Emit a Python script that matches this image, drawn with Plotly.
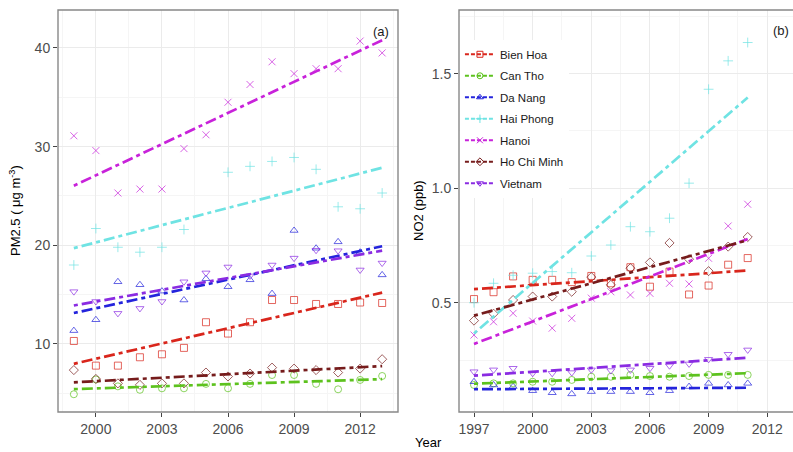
import numpy as np
import plotly.graph_objects as go

# ---------------- data ----------------
cities = ["Bien Hoa", "Can Tho", "Da Nang", "Hai Phong", "Hanoi", "Ho Chi Minh", "Vietnam"]

years_pm25 = [1999, 2000, 2001, 2002, 2003, 2004, 2005, 2006, 2007, 2008, 2009, 2010, 2011, 2012, 2013]
pm25_bien_hoa = [10.3, 7.8, 7.8, 8.65, 8.95, 9.6, 12.2, 11.05, 12.2, 14.45, 14.45, 14.05, 14.05, 14.2, 14.15]
pm25_can_tho = [4.9, 6.4, 5.7, 5.35, 5.5, 5.5, 5.95, 5.5, 5.95, 6.85, 6.85, 5.95, 5.4, 6.35, 6.75]
pm25_da_nang = [11.35, 12.45, 16.3, 16.0, 15.35, 14.45, 16.6, 15.8, 16.5, 15.1, 21.5, 19.7, 20.35, 19.3, 17.0]
pm25_hai_phong = [18.0, 21.7, 19.8, 19.3, 19.8, 21.6, None, 27.4, 28.0, 28.5, 28.9, 27.7, 23.9, 23.7, 25.3]
pm25_hanoi = [31.1, 29.6, 25.3, 25.7, 25.7, 29.8, 31.2, 34.5, 36.3, 38.6, 37.4, 37.9, 37.9, 40.7, 39.5]
pm25_ho_chi_minh = [7.35, 6.45, 6.0, 5.85, 6.0, 6.0, 7.1, 6.7, 7.0, 7.6, 7.5, 7.35, 7.1, 7.5, 8.45]
pm25_vietnam = [15.3, 14.3, 13.1, 13.6, 14.3, 16.3, 17.2, 17.8, 16.9, 18.0, 18.7, 19.5, 19.45, 17.5, 18.2]

years_no2 = [1997, 1998, 1999, 2000, 2001, 2002, 2003, 2004, 2005, 2006, 2007, 2008, 2009, 2010, 2011]
no2_bien_hoa = [0.516, 0.546, 0.615, 0.600, 0.600, 0.590, 0.617, 0.585, 0.655, 0.570, 0.636, 0.536, 0.575, 0.666, 0.695]
no2_can_tho = [0.141, 0.148, 0.148, 0.155, 0.155, 0.163, 0.177, 0.177, 0.185, 0.180, 0.177, 0.180, 0.185, 0.185, 0.185]
no2_da_nang = [0.155, 0.141, 0.134, 0.116, 0.107, 0.102, 0.112, 0.112, 0.112, 0.107, 0.116, 0.134, 0.148, 0.141, 0.148]
no2_hai_phong = [0.50, 0.585, 0.62, 0.629, 0.636, 0.631, 0.704, 0.752, 0.832, 0.810, 0.869, 1.022, 1.432, 1.556, 1.636]
no2_hanoi = [0.359, 0.417, 0.454, 0.420, 0.389, 0.432, 0.520, 0.548, 0.534, 0.541, 0.585, 0.582, 0.694, 0.835, 0.930]
no2_ho_chi_minh = [0.422, 0.452, 0.512, 0.527, 0.527, 0.548, 0.612, 0.578, 0.651, 0.676, 0.761, 0.690, 0.638, 0.745, 0.787]
no2_vietnam = [0.199, 0.207, 0.214, 0.192, 0.192, 0.195, 0.207, 0.204, 0.207, 0.214, 0.225, 0.233, 0.253, 0.275, 0.294]

pm25_values = [pm25_bien_hoa, pm25_can_tho, pm25_da_nang, pm25_hai_phong,
               pm25_hanoi, pm25_ho_chi_minh, pm25_vietnam]
no2_values = [no2_bien_hoa, no2_can_tho, no2_da_nang, no2_hai_phong,
              no2_hanoi, no2_ho_chi_minh, no2_vietnam]

pm25_xticks = [2000, 2003, 2006, 2009, 2012]
pm25_yticks = [10, 20, 30, 40]
no2_xticks = [1997, 2000, 2003, 2006, 2009, 2012]
no2_yticks = [0.5, 1.0, 1.5]

# ---------------- styles ----------------
line_colors = ["#D9261C", "#5DC21E", "#2424DC", "#6FE3E3", "#C822DA", "#761C1C", "#8A2BE2"]
symbols = ["square-open", "circle-open", "triangle-up-open", "cross-thin-open",
           "x-thin-open", "diamond-open", "triangle-down-open"]
DASH = "4px,4px,11px,4px"
FONT = "Liberation Sans, Arial, sans-serif"

W, H = 793, 452


def fit_line(xs, ys):
    pts = [(x, y) for x, y in zip(xs, ys) if y is not None]
    px = np.array([p[0] for p in pts], dtype=float)
    py = np.array([p[1] for p in pts], dtype=float)
    k, b = np.polyfit(px, py, 1)
    xl = np.array([px.min(), px.max()])
    return xl, k * xl + b


fig = go.Figure()

for (xs, series, xa, ya) in [(years_pm25, pm25_values, "x", "y"),
                             (years_no2, no2_values, "x2", "y2")]:
    # points
    for i, name in enumerate(cities):
        fig.add_trace(go.Scatter(
            x=xs, y=series[i], mode="markers", xaxis=xa, yaxis=ya,
            showlegend=False, hoverinfo="skip",
            marker=dict(symbol=symbols[i], size=7, color=line_colors[i], opacity=0.7,
                        line=dict(width=1, color=line_colors[i]))))
    # linear trend lines
    for i, name in enumerate(cities):
        xl, yl = fit_line(xs, series[i])
        fig.add_trace(go.Scatter(
            x=xl, y=yl, mode="lines", xaxis=xa, yaxis=ya, showlegend=False,
            hoverinfo="skip",
            line=dict(color=line_colors[i], width=2.7, dash=DASH)))

# legend entries
for i, name in enumerate(cities):
    fig.add_trace(go.Scatter(
        x=[None], y=[None], mode="lines+markers", name=name, xaxis="x2", yaxis="y2",
        legendgroup=name, showlegend=True,
        line=dict(color=line_colors[i], width=2, dash="4px,2px"),
        marker=dict(symbol=symbols[i], size=6, color=line_colors[i],
                    line=dict(width=1, color=line_colors[i]))))

# ---------------- layout ----------------
y_dom = [40 / H, 442 / H]
tickfont = dict(family=FONT, size=14, color="#4D4D4D")
grid_major = "#EBEBEB"
grid_minor = "#F5F5F5"

common_axis = dict(ticks="outside", ticklen=4, tickwidth=1, tickcolor="#444444",
                   showgrid=True, gridcolor=grid_major, gridwidth=1,
                   zeroline=False, showline=False, tickfont=tickfont)

fig.update_layout(
    width=W, height=H, autosize=False,
    margin=dict(l=0, r=0, t=0, b=0),
    paper_bgcolor="white", plot_bgcolor="white",
    font=dict(family=FONT, color="#000000"),
    xaxis=dict(domain=[58 / W, 398 / W], range=[1998.28, 2013.72], anchor="y",
               tickvals=pm25_xticks,
               minor=dict(tickvals=[1998.5, 2001.5, 2004.5, 2007.5, 2010.5, 2013.5],
                          showgrid=True, gridcolor=grid_minor, gridwidth=0.6),
               **common_axis),
    yaxis=dict(domain=y_dom, range=[3.1, 43.85], anchor="x",
               tickvals=pm25_yticks,
               minor=dict(tickvals=[5, 15, 25, 35],
                          showgrid=True, gridcolor=grid_minor, gridwidth=0.6),
               **common_axis),
    xaxis2=dict(domain=[459 / W, 1.0], range=[1996.233, 2013.317], anchor="y2",
                tickvals=no2_xticks,
                minor=dict(tickvals=[1998.5, 2001.5, 2004.5, 2007.5, 2010.5],
                           showgrid=True, gridcolor=grid_minor, gridwidth=0.6),
                **common_axis),
    yaxis2=dict(domain=y_dom, range=[0.023, 1.778], anchor="x2",
                tickvals=no2_yticks, tickformat=".1f",
                minor=dict(tickvals=[0.25, 0.75, 1.25, 1.75],
                           showgrid=True, gridcolor=grid_minor, gridwidth=0.6),
                **common_axis),
    legend=dict(x=0.580, y=0.912, xanchor="left", yanchor="top",
                bgcolor="white", borderwidth=0, itemwidth=30,
                tracegroupgap=2.5,
                font=dict(family=FONT, size=11.5, color="#1A1A1A")),
    showlegend=True,
)

# panel borders
fig.add_shape(type="rect", xref="x domain", yref="y domain", x0=0, x1=1, y0=0, y1=1,
              line=dict(color="#888888", width=1.4), layer="above")
fig.add_shape(type="rect", xref="x2 domain", yref="y2 domain", x0=0, x1=1.1, y0=0, y1=1,
              line=dict(color="#888888", width=1.4), layer="above")

annot_font = dict(family=FONT, size=13, color="#000000")
fig.add_annotation(text="(a)", x=2012.96, y=41.7, xref="x", yref="y",
                   showarrow=False, font=dict(family=FONT, size=13, color="#1A1A1A"))
fig.add_annotation(text="(b)", x=791 / W, y=1.687, xref="paper", yref="y2",
                   xanchor="right", showarrow=False,
                   font=dict(family=FONT, size=13, color="#1A1A1A"))
fig.add_annotation(text="PM2.5 ( \u03bcg m<sup>-3</sup>)", x=15 / W, y=1 - 211 / H,
                   xref="paper", yref="paper", textangle=-90, showarrow=False,
                   xanchor="center", yanchor="middle", font=annot_font)
fig.add_annotation(text="NO2 (ppb)", x=418 / W, y=1 - 211 / H,
                   xref="paper", yref="paper", textangle=-90, showarrow=False,
                   xanchor="center", yanchor="middle", font=annot_font)
fig.add_annotation(text="Year", x=428 / W, y=0,
                   xref="paper", yref="paper", showarrow=False,
                   xanchor="center", yanchor="bottom", font=annot_font)

fig.write_html("out.html")
